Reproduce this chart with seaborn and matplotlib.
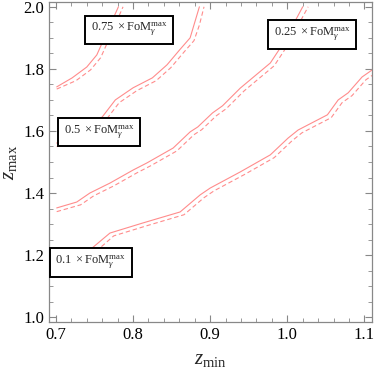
import numpy as np
import pandas as pd
import matplotlib
matplotlib.use("Agg")
import matplotlib.pyplot as plt
import seaborn as sns
from matplotlib.ticker import MultipleLocator, FormatStrFormatter

# ---- data ----
c01_x = [0.747, 0.770, 0.812, 0.861, 0.887, 0.900, 0.939, 0.978, 1.001, 1.014, 1.052, 1.066, 1.079, 1.097, 1.112]
c01_y = [1.223, 1.271, 1.303, 1.339, 1.394, 1.416, 1.468, 1.523, 1.577, 1.603, 1.652, 1.700, 1.723, 1.774, 1.800]
d01_x = [0.752, 0.775, 0.817, 0.866, 0.892, 0.905, 0.944, 0.983, 1.006, 1.019, 1.057, 1.071, 1.084, 1.102, 1.117]
d01_y = [1.212, 1.262, 1.294, 1.330, 1.385, 1.407, 1.459, 1.514, 1.568, 1.594, 1.643, 1.691, 1.714, 1.765, 1.791]

c025_x = [0.701, 0.727, 0.744, 0.770, 0.800, 0.818, 0.852, 0.874, 0.884, 0.903, 0.916, 0.939, 0.978, 0.991, 1.006, 1.020]
c025_y = [1.352, 1.371, 1.400, 1.432, 1.474, 1.497, 1.545, 1.597, 1.613, 1.658, 1.681, 1.738, 1.819, 1.868, 1.935, 2.000]
d025_x = [0.701, 0.732, 0.749, 0.775, 0.805, 0.823, 0.857, 0.879, 0.889, 0.908, 0.921, 0.944, 0.983, 0.996, 1.011, 1.027]
d025_y = [1.340, 1.362, 1.391, 1.423, 1.465, 1.488, 1.536, 1.588, 1.604, 1.649, 1.672, 1.729, 1.810, 1.859, 1.926, 2.000]

c05_x = [0.701, 0.760, 0.777, 0.800, 0.825, 0.844, 0.861, 0.874, 0.880, 0.886]
c05_y = [1.561, 1.645, 1.700, 1.739, 1.771, 1.813, 1.863, 1.900, 1.950, 2.000]
d05_x = [0.701, 0.765, 0.782, 0.805, 0.830, 0.849, 0.866, 0.879, 0.886, 0.892]
d05_y = [1.549, 1.636, 1.691, 1.730, 1.762, 1.804, 1.854, 1.891, 1.941, 2.000]

c075_x = [0.701, 0.721, 0.740, 0.753, 0.760, 0.781]
c075_y = [1.742, 1.771, 1.806, 1.845, 1.884, 2.000]
d075_x = [0.701, 0.726, 0.745, 0.758, 0.765, 0.787]
d075_y = [1.735, 1.762, 1.797, 1.836, 1.875, 2.000]

labels = ["0.1", "0.25", "0.5", "0.75"]
label_x = [0.745, 1.032, 0.756, 0.795]
label_y = [1.177, 1.910, 1.597, 1.926]

# ---- style ----
sns.set_style("ticks")
plt.rcParams["font.family"] = ["Liberation Serif", "DejaVu Serif"]
plt.rcParams["mathtext.fontset"] = "custom"
plt.rcParams["mathtext.rm"] = "Liberation Serif"
plt.rcParams["mathtext.it"] = "Liberation Serif:italic"

fig = plt.figure(figsize=(3.74, 3.69), dpi=100)
ax = fig.add_axes([0.131, 0.127, 0.864, 0.868])

col = "#ff8c8c"
for (sx, sy, dx, dy) in [(c01_x, c01_y, d01_x, d01_y), (c025_x, c025_y, d025_x, d025_y),
                         (c05_x, c05_y, d05_x, d05_y), (c075_x, c075_y, d075_x, d075_y)]:
    sns.lineplot(x=sx, y=sy, ax=ax, color=col, lw=0.8, sort=False, estimator=None)
    sns.lineplot(x=dx, y=dy, ax=ax, color=col, lw=0.8, sort=False, estimator=None,
                 linestyle=(0, (4, 2.5)))

for lab, lx, ly in zip(labels, label_x, label_y):
    ax.text(lx, ly, r"$%s\ \times{\rm FoM}_{\gamma}^{\rm max}$" % lab,
            ha="center", va="center", fontsize=9, zorder=5,
            bbox=dict(boxstyle="square,pad=0.45", fc="white", ec="black", lw=1.4))

ax.set_xlim(0.691, 1.11)
ax.set_ylim(0.984, 2.016)
ax.xaxis.set_major_locator(MultipleLocator(0.1))
ax.xaxis.set_minor_locator(MultipleLocator(0.02))
ax.yaxis.set_major_locator(MultipleLocator(0.2))
ax.yaxis.set_minor_locator(MultipleLocator(0.05))
ax.xaxis.set_major_formatter(FormatStrFormatter("%.1f"))
ax.yaxis.set_major_formatter(FormatStrFormatter("%.1f"))
ax.tick_params(which="both", direction="in", top=True, right=True, color="#888888",
               labelsize=12, labelcolor="black")
ax.tick_params(which="major", length=5, width=0.8)
ax.tick_params(which="minor", length=3, width=0.6)
for s in ax.spines.values():
    s.set_color("#888888")
    s.set_linewidth(0.9)
ax.set_xlabel(r"$z_{\rm min}$", fontsize=15, labelpad=5)
ax.set_ylabel(r"$z_{\rm max}$", fontsize=15, labelpad=3)

fig.savefig("out.png", dpi=100)
